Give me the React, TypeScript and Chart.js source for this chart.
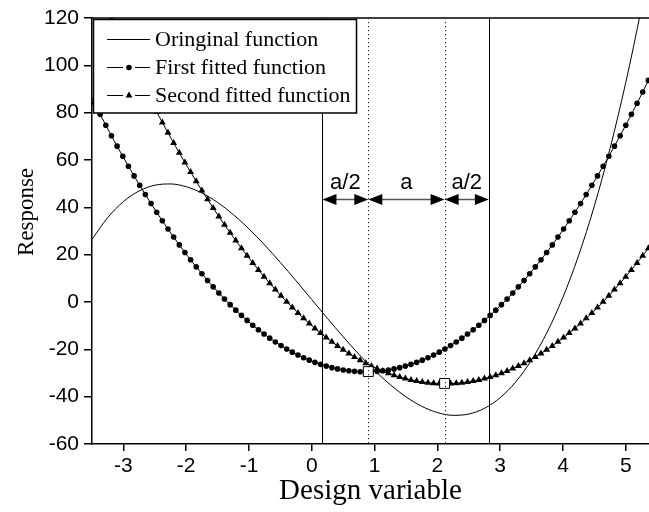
import React, { useEffect, useRef } from "react";
import { Chart, registerables } from "chart.js";

Chart.register(...registerables);

// ---------- data ----------
const xTicks = [-3, -2, -1, 0, 1, 2, 3, 4, 5];
const yTicks = [-60, -40, -20, 0, 20, 40, 60, 80, 100, 120];

const originalX = [
  -3.5, -3.25, -3.0, -2.75, -2.5, -2.25, -2.0, -1.75, -1.5, -1.25, -1.0, -0.75, -0.5, -0.25, 0.0, 0.25, 0.5,
  0.75, 1.0, 1.25, 1.5, 1.75, 2.0, 2.25, 2.5, 2.75, 3.0, 3.25, 3.5, 3.75, 4.0, 4.25, 4.5, 4.75, 5.0, 5.25, 5.5,
];
const originalY = [
  26.47, 35.68, 42.43, 46.92, 49.34, 49.88, 48.72, 46.05, 42.07, 36.95, 30.89, 24.08, 16.7, 8.94, 1.0, -6.94,
  -14.7, -22.08, -28.89, -34.95, -40.07, -44.05, -46.72, -47.88, -47.34, -44.92, -40.43, -33.68, -24.47, -12.63,
  2.04, 19.73, 40.61, 64.89, 92.75, 124.37, 159.96,
];

const fittedX = [
  -3.55, -3.46, -3.37, -3.28, -3.19, -3.1, -3.01, -2.92, -2.83, -2.74,
  -2.65, -2.56, -2.47, -2.38, -2.29, -2.2, -2.11, -2.02, -1.93, -1.84,
  -1.75, -1.66, -1.57, -1.48, -1.39, -1.3, -1.21, -1.12, -1.03, -0.94,
  -0.85, -0.76, -0.67, -0.58, -0.49, -0.4, -0.31, -0.22, -0.13, -0.04,
  0.05, 0.14, 0.23, 0.32, 0.41, 0.5, 0.59, 0.68, 0.77, 0.86,
  0.95, 1.04, 1.13, 1.22, 1.31, 1.4, 1.49, 1.58, 1.67, 1.76,
  1.85, 1.94, 2.03, 2.12, 2.21, 2.3, 2.39, 2.48, 2.57, 2.66,
  2.75, 2.84, 2.93, 3.02, 3.11, 3.2, 3.29, 3.38, 3.47, 3.56,
  3.65, 3.74, 3.83, 3.92, 4.01, 4.1, 4.19, 4.28, 4.37, 4.46,
  4.55, 4.64, 4.73, 4.82, 4.91, 5.0, 5.09, 5.18, 5.27, 5.36,
  5.45,
];
const firstFittedY = [
  88.75, 83.97, 79.29, 74.71, 70.23, 65.85, 61.56, 57.38, 53.29, 49.3,
  45.41, 41.62, 37.92, 34.33, 30.83, 27.43, 24.13, 20.93, 17.83, 14.83,
  11.92, 9.11, 6.4, 3.79, 1.28, -1.13, -3.45, -5.66, -7.78, -9.8,
  -11.72, -13.54, -15.27, -16.89, -18.42, -19.85, -21.18, -22.41, -23.54, -24.58,
  -25.51, -26.35, -27.09, -27.73, -28.27, -28.71, -29.06, -29.3, -29.45, -29.5,
  -29.45, -29.3, -29.06, -28.71, -28.27, -27.73, -27.09, -26.35, -25.51, -24.58,
  -23.54, -22.41, -21.18, -19.85, -18.42, -16.89, -15.27, -13.54, -11.72, -9.8,
  -7.78, -5.66, -3.45, -1.13, 1.28, 3.79, 6.4, 9.11, 11.92, 14.83,
  17.83, 20.93, 24.13, 27.43, 30.83, 34.33, 37.92, 41.62, 45.41, 49.3,
  53.29, 57.38, 61.56, 65.85, 70.23, 74.71, 79.29, 83.97, 88.75, 93.63,
  98.6,
];
const secondFittedY = [
  140.75, 135.15, 129.76, 124.5, 119.22, 114.02, 108.93, 103.94, 99.04, 94.26,
  89.52, 84.87, 80.31, 75.86, 71.49, 67.21, 63.02, 58.91, 54.89, 50.97,
  47.12, 43.37, 39.71, 36.13, 32.64, 29.25, 25.94, 22.71, 19.58, 16.53,
  13.57, 10.71, 7.92, 5.23, 2.63, 0.11, -2.32, -4.66, -6.91, -9.07,
  -11.15, -13.13, -15.03, -16.84, -18.56, -20.2, -21.74, -23.2, -24.57, -25.85,
  -27.04, -28.14, -29.16, -30.09, -30.92, -31.67, -32.34, -32.91, -33.4, -33.79,
  -34.1, -34.32, -34.46, -34.5, -34.46, -34.32, -34.1, -33.79, -33.4, -32.91,
  -32.34, -31.67, -30.92, -30.09, -29.16, -28.14, -27.04, -25.85, -24.57, -23.2,
  -21.74, -20.2, -18.56, -16.84, -15.03, -13.13, -11.15, -9.07, -6.91, -4.66,
  -2.32, 0.11, 2.63, 5.23, 7.92, 10.71, 13.57, 16.53, 19.58, 22.71,
  25.94,
];

const optimumX = [0.9, 2.115];
const optimumY = [-29.4, -34.4];

const boundaryX = [0.17, 0.9, 2.115, 2.82];
const boundaryDotted = [false, true, true, false];
const arrowLevel = 43.5;
const spanLabels = ["a/2", "a", "a/2"];

const legendLabels = ["Oringinal function", "First fitted function", "Second fitted function"];
const xTitle = "Design variable";
const yTitle = "Response";

const X_MIN = -3.5;
const X_MAX = 5.37;
const Y_MIN = -60;
const Y_MAX = 120;

const toPoints = (xs: number[], ys: number[]) => xs.map((x, i) => ({ x, y: ys[i] }));

const SANS = "'Liberation Sans', Arial, sans-serif";
const SERIF = "'Liberation Serif', 'Times New Roman', serif";

const annotationPlugin = {
  id: "annotations",
  afterDatasetsDraw(chart: any) {
    const { ctx, chartArea: ca, scales } = chart;
    const xs = scales.x;
    const ys = scales.y;
    ctx.save();

    // top frame line
    ctx.strokeStyle = "#000";
    ctx.lineWidth = 1.5;
    ctx.beginPath();
    ctx.moveTo(ca.left, ca.top);
    ctx.lineTo(ca.right, ca.top);
    ctx.stroke();

    // vertical boundary lines
    boundaryX.forEach((bx, i) => {
      const px = Math.round(xs.getPixelForValue(bx)) + 0.5;
      ctx.beginPath();
      if (boundaryDotted[i]) {
        ctx.setLineDash([1.2, 2.8]);
        ctx.strokeStyle = "#222";
      } else {
        ctx.setLineDash([]);
        ctx.strokeStyle = "#000";
      }
      ctx.lineWidth = 1;
      ctx.moveTo(px, ca.top);
      ctx.lineTo(px, ca.bottom);
      ctx.stroke();
    });
    ctx.setLineDash([]);

    // double arrows + labels
    const ay = Math.round(ys.getPixelForValue(arrowLevel)) + 0.5;
    const headLen = 14;
    const headHalf = 5.5;
    const drawHead = (tipX: number, dir: number) => {
      ctx.beginPath();
      ctx.moveTo(tipX, ay);
      ctx.lineTo(tipX - dir * headLen, ay - headHalf);
      ctx.lineTo(tipX - dir * headLen, ay + headHalf);
      ctx.closePath();
      ctx.fillStyle = "#000";
      ctx.fill();
    };
    for (let i = 0; i < spanLabels.length; i++) {
      const x0 = xs.getPixelForValue(boundaryX[i]);
      const x1 = xs.getPixelForValue(boundaryX[i + 1]);
      ctx.strokeStyle = "#555";
      ctx.lineWidth = 1.5;
      ctx.beginPath();
      ctx.moveTo(x0 + 4, ay);
      ctx.lineTo(x1 - 4, ay);
      ctx.stroke();
      drawHead(x0, -1);
      drawHead(x1, 1);
      ctx.fillStyle = "#000";
      ctx.font = `22px ${SANS}`;
      ctx.textAlign = "center";
      ctx.textBaseline = "alphabetic";
      ctx.fillText(spanLabels[i], (x0 + x1) / 2, ay - 11);
    }

    // legend box
    ctx.font = `22px ${SERIF}`;
    const textX = 155;
    let maxW = 0;
    legendLabels.forEach((t) => (maxW = Math.max(maxW, ctx.measureText(t).width)));
    const boxL = ca.left + 1.5;
    const boxT = ca.top + 1.5;
    const boxR = textX + maxW + 6;
    const boxB = 113;
    ctx.fillStyle = "#fff";
    ctx.fillRect(boxL, boxT, boxR - boxL, boxB - boxT);
    ctx.strokeStyle = "#000";
    ctx.lineWidth = 1.5;
    ctx.strokeRect(boxL, boxT, boxR - boxL, boxB - boxT);

    const rowsY = [39.5, 67.5, 95.5];
    ctx.lineWidth = 1;
    ctx.strokeStyle = "#000";
    ctx.fillStyle = "#000";
    rowsY.forEach((ry, i) => {
      ctx.beginPath();
      if (i === 0) {
        ctx.moveTo(107, ry);
        ctx.lineTo(150, ry);
      } else {
        ctx.moveTo(107, ry);
        ctx.lineTo(123, ry);
        ctx.moveTo(135, ry);
        ctx.lineTo(150, ry);
      }
      ctx.stroke();
      if (i === 1) {
        ctx.beginPath();
        ctx.arc(129, ry, 2.8, 0, Math.PI * 2);
        ctx.fill();
      } else if (i === 2) {
        const r = 4;
        ctx.beginPath();
        ctx.moveTo(129, ry - r);
        ctx.lineTo(129 + r * 0.866, ry + r * 0.5);
        ctx.lineTo(129 - r * 0.866, ry + r * 0.5);
        ctx.closePath();
        ctx.fill();
      }
      ctx.textAlign = "left";
      ctx.textBaseline = "middle";
      ctx.fillText(legendLabels[i], textX, ry + 1);
    });

    // y-axis title
    ctx.save();
    ctx.translate(27, 212);
    ctx.rotate(-Math.PI / 2);
    ctx.font = `23px ${SERIF}`;
    ctx.fillStyle = "#000";
    ctx.textAlign = "center";
    ctx.textBaseline = "middle";
    ctx.fillText(yTitle, 0, 0);
    ctx.restore();

    ctx.restore();
  },
};

export default function App() {
  const canvasRef = useRef<HTMLCanvasElement | null>(null);

  useEffect(() => {
    const canvas = canvasRef.current;
    if (!canvas) return;
    const chart = new Chart(canvas, {
      type: "line",
      data: {
        datasets: [
          {
            label: "Optimum",
            data: toPoints(optimumX, optimumY),
            showLine: false,
            pointStyle: "rect",
            pointRadius: 7,
            pointBackgroundColor: "#fff",
            pointBorderColor: "#000",
            pointBorderWidth: 1,
            order: 0,
          },
          {
            label: legendLabels[1],
            data: toPoints(fittedX, firstFittedY),
            borderColor: "#000",
            borderWidth: 1,
            pointStyle: "circle",
            pointRadius: 2.8,
            pointBackgroundColor: "#000",
            pointBorderColor: "#000",
            pointBorderWidth: 0,
            order: 1,
          },
          {
            label: legendLabels[2],
            data: toPoints(fittedX, secondFittedY),
            borderColor: "#000",
            borderWidth: 1,
            pointStyle: "triangle",
            pointRadius: 4,
            pointBackgroundColor: "#000",
            pointBorderColor: "#000",
            pointBorderWidth: 0,
            order: 2,
          },
          {
            label: legendLabels[0],
            data: toPoints(originalX, originalY),
            borderColor: "#000",
            borderWidth: 1,
            pointRadius: 0,
            cubicInterpolationMode: "monotone",
            order: 3,
          },
        ],
      },
      options: {
        responsive: false,
        animation: false,
        layout: { autoPadding: false, padding: { top: 18, right: 0, left: 0, bottom: 0 } },
        plugins: { legend: { display: false }, tooltip: { enabled: false } },
        scales: {
          x: {
            type: "linear",
            min: X_MIN,
            max: X_MAX,
            afterFit: (s: any) => {
              s.height = 68;
              s.paddingLeft = 0;
              s.paddingRight = 0;
            },
            afterBuildTicks: (s: any) => {
              s.ticks = xTicks.map((v) => ({ value: v }));
            },
            ticks: {
              stepSize: 1,
              includeBounds: false,
              autoSkip: false,
              maxRotation: 0,
              color: "#000",
              padding: 3,
              font: { family: SANS, size: 21 },
            },
            grid: { drawOnChartArea: false, tickLength: 7, color: "#000", lineWidth: 1.5 },
            border: { display: true, color: "#000", width: 1.5 },
            title: {
              display: true,
              text: xTitle,
              color: "#000",
              font: { family: SERIF, size: 29, lineHeight: 1.2 },
              padding: { top: 0, bottom: 3 },
            },
          },
          y: {
            type: "linear",
            min: Y_MIN,
            max: Y_MAX,
            afterFit: (s: any) => {
              s.width = 92;
              s.paddingTop = 0;
              s.paddingBottom = 0;
            },
            afterBuildTicks: (s: any) => {
              s.ticks = yTicks.map((v) => ({ value: v }));
            },
            ticks: {
              stepSize: 20,
              autoSkip: false,
              color: "#000",
              padding: 5,
              font: { family: SANS, size: 21 },
            },
            grid: { drawOnChartArea: false, tickLength: 8, color: "#000", lineWidth: 1.5 },
            border: { display: true, color: "#000", width: 1.5 },
            title: { display: false },
          },
        },
      },
      plugins: [annotationPlugin],
    });
    return () => chart.destroy();
  }, []);

  return (
    <div style={{ position: "fixed", left: 0, top: 0, width: 649, height: 512, background: "#fff" }}>
      <canvas ref={canvasRef} width={649} height={512} style={{ display: "block" }} />
    </div>
  );
}
